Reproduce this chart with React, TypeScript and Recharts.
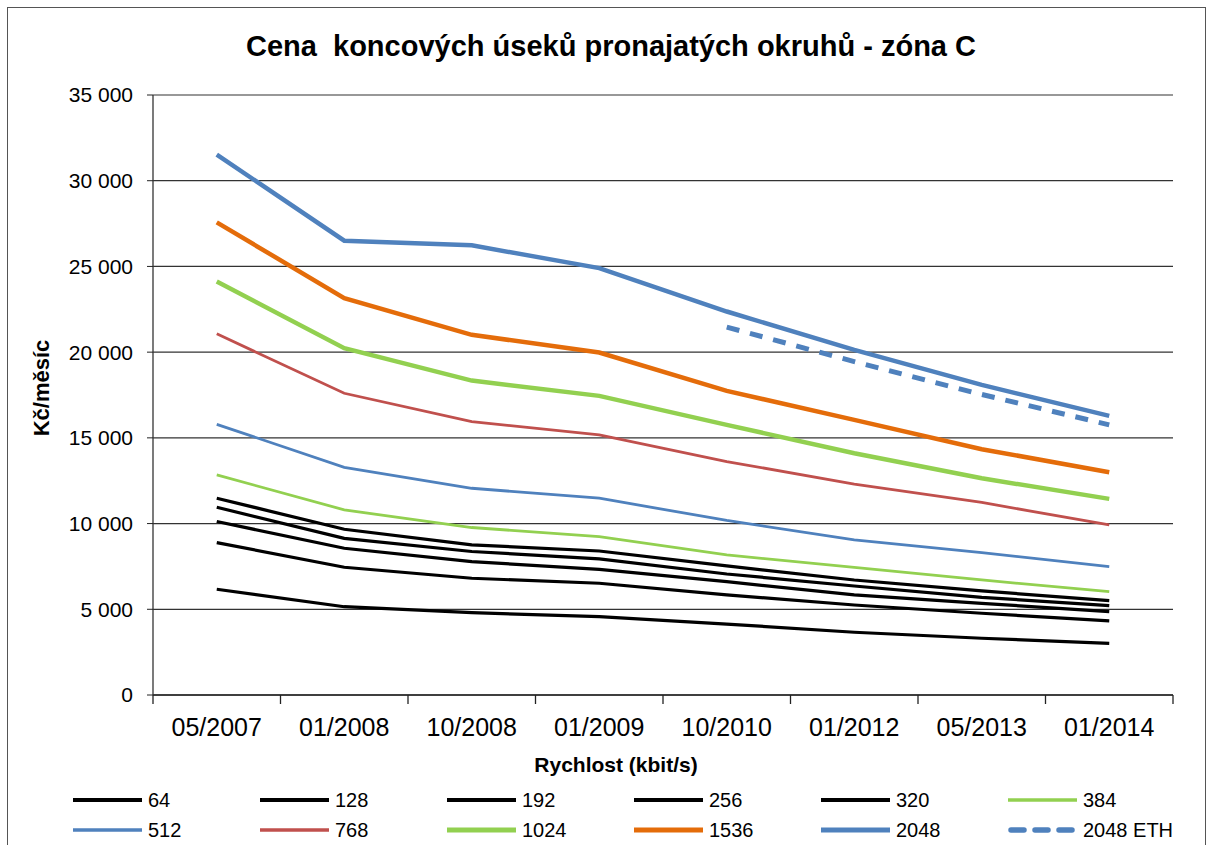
import React from 'react';
import {
  LineChart,
  Line,
  XAxis,
  YAxis,
  CartesianGrid,
  Legend,
} from 'recharts';

const periods = ['05/2007', '01/2008', '10/2008', '01/2009', '10/2010', '01/2012', '05/2013', '01/2014'];

const s64 = [6170, 5150, 4800, 4570, 4140, 3660, 3310, 3010];
const s128 = [8890, 7450, 6810, 6520, 5840, 5250, 4770, 4320];
const s192 = [10120, 8560, 7780, 7330, 6610, 5840, 5350, 4860];
const s256 = [10950, 9140, 8370, 7940, 7060, 6360, 5700, 5210];
const s320 = [11480, 9670, 8760, 8400, 7530, 6710, 6070, 5510];
const s384 = [12840, 10800, 9770, 9240, 8170, 7450, 6710, 6030];
const s512 = [15790, 13280, 12060, 11480, 10180, 9050, 8310, 7490];
const s768 = [21070, 17600, 15950, 15170, 13620, 12300, 11230, 9920];
const s1024 = [24120, 20230, 18340, 17450, 15760, 14100, 12640, 11440];
const s1536 = [27570, 23150, 21010, 19980, 17740, 16050, 14340, 12990];
const s2048 = [31520, 26500, 26230, 24900, 22370, 20130, 18090, 16280];
const s2048eth = [null, null, null, null, 21460, 19450, 17530, 15760];

const yTicks = [0, 5000, 10000, 15000, 20000, 25000, 30000, 35000];

const FONT = '"Liberation Sans", Arial, sans-serif';

// series styling (order = drawing order and legend order)
const series = [
  { key: 's64', name: '64', values: s64, color: '#000000', width: 3.2 },
  { key: 's128', name: '128', values: s128, color: '#000000', width: 3.2 },
  { key: 's192', name: '192', values: s192, color: '#000000', width: 3.2 },
  { key: 's256', name: '256', values: s256, color: '#000000', width: 3.2 },
  { key: 's320', name: '320', values: s320, color: '#000000', width: 3.2 },
  { key: 's384', name: '384', values: s384, color: '#92D050', width: 2.8 },
  { key: 's512', name: '512', values: s512, color: '#4F81BD', width: 2.8 },
  { key: 's768', name: '768', values: s768, color: '#C0504D', width: 2.8 },
  { key: 's1024', name: '1024', values: s1024, color: '#92D050', width: 4.5 },
  { key: 's1536', name: '1536', values: s1536, color: '#E46C0A', width: 4.5 },
  { key: 's2048', name: '2048', values: s2048, color: '#4F81BD', width: 4.5 },
  { key: 's2048eth', name: '2048 ETH', values: s2048eth, color: '#4F81BD', width: 5, dash: '13 11' },
];

const data = periods.map((period, i) => {
  const row: Record<string, string | number | null> = { period };
  series.forEach((s) => {
    row[s.key] = s.values[i];
  });
  return row;
});

const W = 1208;
const H = 845;
const X_AXIS_H = 30;
const MARGIN = { top: 95, right: 35, left: 0, bottom: 150 - X_AXIS_H };
const Y_AXIS_W = 153;
const PLOT_W = W - MARGIN.left - MARGIN.right - Y_AXIS_W;
const HALF_BAND = PLOT_W / periods.length / 2;

const fmt = (v: number) => String(v).replace(/\B(?=(\d{3})+(?!\d))/g, ' ');

const XTick = (props: any) => {
  const { x, y, payload, index } = props;
  const last = index === periods.length - 1;
  return (
    <g>
      <line x1={x - HALF_BAND} x2={x - HALF_BAND} y1={y} y2={y + 9} stroke="#222" strokeWidth={1.3} />
      {last && <line x1={x + HALF_BAND} x2={x + HALF_BAND} y1={y} y2={y + 9} stroke="#222" strokeWidth={1.3} />}
      <text x={x} y={y + 41} textAnchor="middle" fontSize={25} fontFamily={FONT} fill="#000">
        {payload.value}
      </text>
    </g>
  );
};

const LegendContent = () => (
  <svg width={W} height={60}>
    {series.map((s, i) => {
      const col = i % 6;
      const row = Math.floor(i / 6);
      const x0 = 73 + col * 187;
      const yy = 15 + row * 30;
      return (
        <g key={s.key}>
          <line
            x1={s.dash ? x0 + 3 : x0}
            x2={s.dash ? x0 + 67 : x0 + 69}
            y1={yy}
            y2={yy}
            stroke={s.color}
            strokeWidth={s.dash ? 5.5 : s.width + 0.6}
            strokeDasharray={s.dash ? '13 11' : undefined}
            strokeLinecap={s.dash ? 'round' : 'butt'}
          />
          <text x={x0 + 75} y={yy + 7} fontSize={20} fontFamily={FONT} fill="#000">
            {s.name}
          </text>
        </g>
      );
    })}
  </svg>
);

const App = () => {
  return (
    <div style={{ position: 'absolute', left: 0, top: 0, width: W, height: H, background: '#fff', overflow: 'hidden' }}>
      {/* chart frame */}
      <div
        style={{
          position: 'absolute',
          left: 7,
          top: 7,
          width: 1197,
          height: H,
          border: '1px solid #555',
          borderBottom: 'none',
        }}
      />
      <div
        style={{
          position: 'absolute',
          left: 0,
          top: 32,
          width: 1222,
          textAlign: 'center',
          fontFamily: FONT,
          fontWeight: 'bold',
          fontSize: 29,
          lineHeight: '28px',
          whiteSpace: 'pre',
          color: '#000',
        }}
      >
        {'Cena  koncových úseků pronajatých okruhů - zóna C'}
      </div>
      <LineChart width={W} height={H} data={data} margin={MARGIN}>
        <CartesianGrid vertical={false} stroke="#333" strokeWidth={1.2} />
        <XAxis
          dataKey="period"
          height={X_AXIS_H}
          interval={0}
          padding={{ left: HALF_BAND, right: HALF_BAND }}
          tickLine={false}
          tickSize={0}
          tickMargin={0}
          tick={<XTick />}
          axisLine={{ stroke: '#222', strokeWidth: 1.3 }}
          label={({ viewBox }: any) => (
            <text
              x={viewBox.x + viewBox.width / 2 - 47}
              y={viewBox.y + 77}
              textAnchor="middle"
              fontSize={21}
              fontWeight="bold"
              fontFamily={FONT}
              fill="#000"
            >
              Rychlost (kbit/s)
            </text>
          )}
        />
        <XAxis xAxisId="top" orientation="top" height={0} tick={false} tickLine={false} axisLine={{ stroke: '#999', strokeWidth: 2 }} />
        <YAxis
          width={Y_AXIS_W}
          domain={[0, 35000]}
          ticks={yTicks}
          interval={0}
          tickFormatter={fmt}
          tickSize={6}
          tickMargin={14}
          tick={{ fontSize: 21, fontFamily: FONT, fill: '#000' }}
          tickLine={{ stroke: '#222' }}
          axisLine={{ stroke: '#333', strokeWidth: 1.3 }}
          label={({ viewBox }: any) => {
            const cx = viewBox.x + 41;
            const cy = viewBox.y + viewBox.height / 2 - 7;
            return (
              <text
                x={cx}
                y={cy}
                transform={`rotate(-90 ${cx} ${cy})`}
                textAnchor="middle"
                dominantBaseline="central"
                fontSize={22}
                fontWeight="bold"
                fontFamily={FONT}
                fill="#000"
              >
                Kč/měsíc
              </text>
            );
          }}
        />
        <YAxis yAxisId="right" orientation="right" width={0} tick={false} tickLine={false} axisLine={{ stroke: '#999', strokeWidth: 2 }} />
        {series.map((s) => (
          <Line
            key={s.key}
            type="linear"
            dataKey={s.key}
            name={s.name}
            stroke={s.color}
            strokeWidth={s.width}
            strokeDasharray={s.dash}
            dot={false}
            activeDot={false}
            isAnimationActive={false}
          />
        ))}
        <Legend
          layout="horizontal"
          verticalAlign="middle"
          align="center"
          wrapperStyle={{ left: 0, top: 785, width: W, height: 60 }}
          content={<LegendContent />}
        />
      </LineChart>
    </div>
  );
};

export default App;
